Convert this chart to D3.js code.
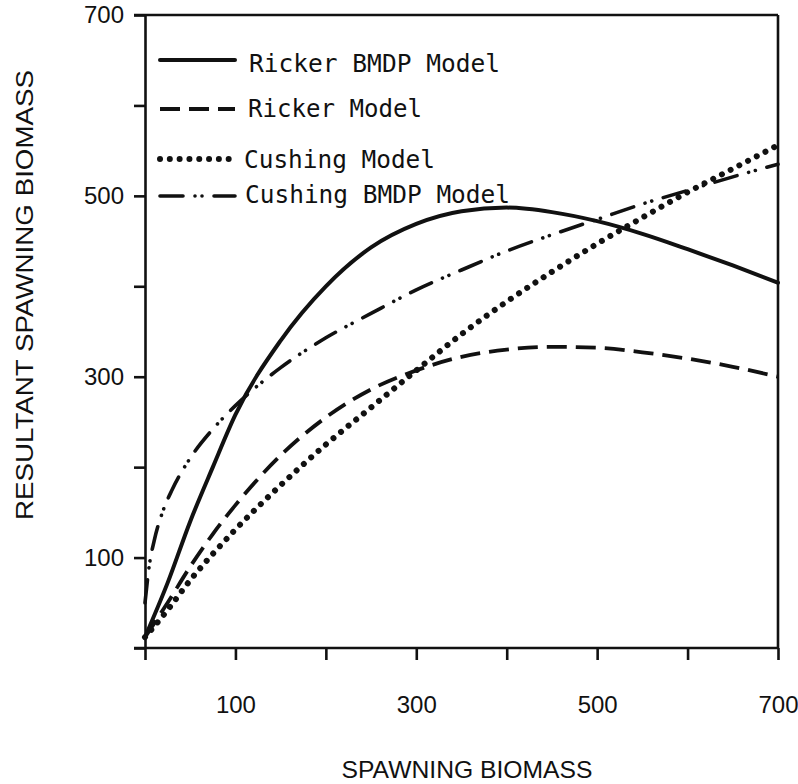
<!DOCTYPE html>
<html>
<head>
<meta charset="utf-8">
<script src="https://cdn.jsdelivr.net/npm/d3@7"></script>
<style>
  html, body { margin: 0; padding: 0; background: #fff; }
  svg { display: block; }
</style>
</head>
<body>
<svg id="chart" width="798" height="784"></svg>
<script>
// ---- data ----
const xTicks = [0, 100, 200, 300, 400, 500, 600, 700];
const yTicks = [0, 100, 200, 300, 400, 500, 600, 700];
const xTickLabels = [100, 300, 500, 700];
const yTickLabels = [100, 300, 500, 700];

const seriesNames = ["Ricker BMDP Model", "Ricker Model", "Cushing Model", "Cushing BMDP Model"];

const rickerBMDP = [[0,12],[25,72],[50,140],[75,200],[100,258],[150,340],[200,400],[250,443],[300,469],
  [350,483],[400,487],[450,482],[500,472],[550,458],[600,441],[650,423],[700,404]];
const rickerModel = [[0,12],[25,50],[50,90],[75,126],[100,158],[150,213],[200,255],[250,286],[300,307],
  [350,322],[400,330],[450,333],[500,332],[550,327],[600,320],[650,311],[700,300]];
const cushingModel = [[0,12],[25,42],[50,75],[75,104],[100,131],[150,180],[200,225],[250,266],[300,307],
  [350,347],[400,383],[450,416],[500,447],[550,476],[600,504],[650,530],[700,556]];
const cushingBMDP = [[0,50],[5,93],[10,118],[20,152],[30,175],[50,210],[75,242],[100,268],[150,310],
  [200,343],[250,370],[300,396],[350,418],[400,439],[450,457],[500,474],[550,491],[600,506],[650,521],[700,535]];

// ---- layout ----
const svg = d3.select("#chart");
const x = d3.scaleLinear().domain([0, 700]).range([145, 778]);
const y = d3.scaleLinear().domain([0, 700]).range([648, 15]);

const tickFont = "'Liberation Sans', Arial, sans-serif";
const legendFont = "'DejaVu Sans Mono', 'Liberation Mono', monospace";

// styles per series
const styles = [
  { data: rickerBMDP,   dash: null,                     width: 4.0, cap: "round" },
  { data: rickerModel,  dash: "20,9",                   width: 3.8, cap: "butt" },
  { data: cushingModel, dash: "0.01,9.8",               width: 6.0, cap: "round" },
  { data: cushingBMDP,  dash: "23,12,0.01,7,0.01,12",   width: 3.6, cap: "round" }
];

// ---- axes ----
const xAxis = d3.axisBottom(x)
  .tickValues(xTicks)
  .tickSize(12)
  .tickSizeOuter(0)
  .tickPadding(36)
  .tickFormat(d => xTickLabels.includes(d) ? d : "");
const gx = svg.append("g").attr("transform", `translate(0,${y(0)})`).call(xAxis);

const yAxis = d3.axisLeft(y)
  .tickValues(yTicks)
  .tickSize(11)
  .tickSizeOuter(0)
  .tickPadding(10)
  .tickFormat(d => yTickLabels.includes(d) ? d : "");
const gy = svg.append("g").attr("transform", `translate(${x(0)},0)`).call(yAxis);

[gx, gy].forEach(g => {
  g.select(".domain").attr("stroke", "#111").attr("stroke-width", 2.6);
  g.selectAll(".tick line").attr("stroke", "#111").attr("stroke-width", 2.6);
  g.selectAll(".tick text").attr("fill", "#111")
    .style("font-family", tickFont).style("font-size", "24px");
});
// extend x axis line left a bit (the y-axis 0 tick)
gx.select(".domain").attr("d", `M${-11 + x(0)},0H${x(700)}`);

// top and right frame (continuations of the axes)
svg.append("line")
  .attr("x1", x(0) - 11).attr("x2", x(700))
  .attr("y1", y(700)).attr("y2", y(700))
  .attr("stroke", "#111").attr("stroke-width", 2.6);
svg.append("line")
  .attr("x1", x(700)).attr("x2", x(700))
  .attr("y1", y(700)).attr("y2", y(0))
  .attr("stroke", "#111").attr("stroke-width", 2.6);

// ---- curves ----
const line = d3.line()
  .x(d => x(d[0]))
  .y(d => y(d[1]))
  .curve(d3.curveMonotoneX);

styles.forEach(s => {
  svg.append("path")
    .attr("d", line(s.data))
    .attr("fill", "none")
    .attr("stroke", "#111")
    .attr("stroke-width", s.width)
    .attr("stroke-linecap", s.cap)
    .attr("stroke-linejoin", "round")
    .attr("stroke-dasharray", s.dash);
});

// ---- legend ----
const legendRows = [
  { lineY: 60,  textY: 72,  textX: 249, textW: 251 },
  { lineY: 109, textY: 117, textX: 248, textW: 174 },
  { lineY: 159, textY: 168, textX: 244, textW: 191 },
  { lineY: 196, textY: 203, textX: 245, textW: 265 }
];
const legend = svg.append("g");
seriesNames.forEach((name, i) => {
  const r = legendRows[i], s = styles[i];
  legend.append("line")
    .attr("x1", 160).attr("x2", 235)
    .attr("y1", r.lineY).attr("y2", r.lineY)
    .attr("stroke", "#111")
    .attr("stroke-width", s.width)
    .attr("stroke-linecap", s.cap)
    .attr("stroke-dasharray", s.dash);
  legend.append("text")
    .attr("x", r.textX).attr("y", r.textY)
    .attr("textLength", r.textW)
    .attr("lengthAdjust", "spacingAndGlyphs")
    .style("font-family", legendFont)
    .style("font-size", "25px")
    .attr("fill", "#111")
    .text(name);
});

// ---- axis titles ----
svg.append("text")
  .attr("x", 467).attr("y", 778)
  .attr("text-anchor", "middle")
  .attr("textLength", 251)
  .attr("lengthAdjust", "spacingAndGlyphs")
  .style("font-family", tickFont).style("font-size", "24px")
  .attr("fill", "#111")
  .text("SPAWNING BIOMASS");

svg.append("text")
  .attr("transform", "translate(33,295) rotate(-90)")
  .attr("text-anchor", "middle")
  .attr("textLength", 450)
  .attr("lengthAdjust", "spacingAndGlyphs")
  .style("font-family", tickFont).style("font-size", "24px")
  .attr("fill", "#111")
  .text("RESULTANT SPAWNING BIOMASS");
</script>
</body>
</html>
